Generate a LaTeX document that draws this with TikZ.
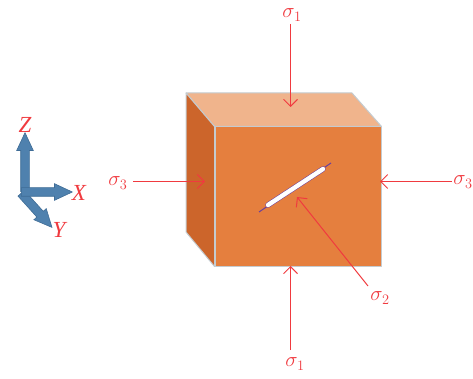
\documentclass[tikz,border=0pt]{standalone}
\usepackage{amsmath}
\usepackage{xcolor}
\usepackage{fontspec}
\setmainfont{Liberation Serif}
\usetikzlibrary{positioning,arrows.meta,shapes.arrows,calc}
\definecolor{loadred}{HTML}{F03A3F}
\definecolor{facefront}{HTML}{E57F3E}
\definecolor{facetop}{HTML}{F0B48C}
\definecolor{faceside}{HTML}{CC652B}
\definecolor{faceedge}{HTML}{C4CBD0}
\definecolor{axisblue}{HTML}{4F81AE}
\definecolor{axisedge}{HTML}{3F6C96}
\definecolor{crackline}{HTML}{6A3FA0}
\begin{document}
\begin{tikzpicture}[x=1pt, y=-1pt, >={Straight Barb[length=7pt,width=14pt]},
  load/.style={->, draw=loadred, line width=1pt},
  stress/.style={text=loadred, font=\fontsize{22}{24}\selectfont, inner sep=0pt},
  axisname/.style={text=loadred, font=\fontsize{23}{25}\selectfont\itshape, inner sep=0pt},
  axisarrow/.style={single arrow, draw=axisedge, fill=axisblue, line width=0.6pt, inner sep=4pt,
    minimum width=0pt, single arrow head extend=4pt, single arrow head indent=0pt,
    single arrow tip angle=50, anchor=tail},
  face/.style={draw=faceedge, line width=1pt, line join=round}]
\useasboundingbox (0,0) rectangle (473,379);
% cube
\node[face, fill=facefront, inner sep=0pt, minimum width=166pt, minimum height=139pt] (front) at (298,196.5) {};
\coordinate (backtop) at (186,93);
\coordinate (backright) at (352,93);
\coordinate (backbottom) at (186,232);
\draw[face, fill=facetop] (backtop) -- (backright) -- (front.north east) -- (front.north west) -- cycle;
\draw[face, fill=faceside] (backtop) -- (front.north west) -- (front.south west) -- (backbottom) -- cycle;
% crack
\coordinate (crackA) at (259,212);
\coordinate (crackB) at (331,163);
\coordinate (crackC) at (268,205);
\coordinate (crackD) at (323,169);
\draw[crackline, line width=1pt] (crackA) -- (crackB);
\draw[crackline, line width=5.4pt, line cap=round] (crackC) -- (crackD);
\draw[white, line width=4.4pt, line cap=round] (crackC) -- (crackD);
% loads
\node[stress] (s1top) at (292,15) {$\sigma_1$};
\node[stress] (s1bot) at (295,364) {$\sigma_1$};
\node[stress] (s3left) at (118,183) {$\sigma_3$};
\node[stress] (s3right) at (463,182) {$\sigma_3$};
\node[stress] (s2) at (380,298) {$\sigma_2$};
\coordinate (s1topend) at (290.5,107);
\coordinate (s1botend) at (290.5,266);
\coordinate (s3leftend) at (205,181.5);
\coordinate (s3rightend) at (380,181.5);
\coordinate (s2end) at (297,197);
\coordinate (s1topstart) at (290.5,24);
\coordinate (s1botstart) at (290.5,350);
\coordinate (s3leftstart) at (133,181.5);
\coordinate (s3rightstart) at (452,181.5);
\coordinate (s2start) at (368,286);
\draw[load] (s1topstart) -- (s1topend);
\draw[load] (s1botstart) -- (s1botend);
\draw[load] (s3leftstart) -- (s3leftend);
\draw[load] (s3rightstart) -- (s3rightend);
\draw[load] (s2start) -- (s2end);
% axes
\node[axisarrow, minimum height=46pt, rotate=-48] (yarrow) at (21,193) {};
\node[axisarrow, minimum height=59pt, rotate=90] (zarrow) at (25,192) {};
\node[axisarrow, minimum height=51pt] (xarrow) at (21,192) {};
\node[axisname] (zlabel) at (25,125) {Z};
\node[axisname] (xlabel) at (79,193) {X};
\node[axisname] (ylabel) at (59,230) {Y};
\end{tikzpicture}
\end{document}
